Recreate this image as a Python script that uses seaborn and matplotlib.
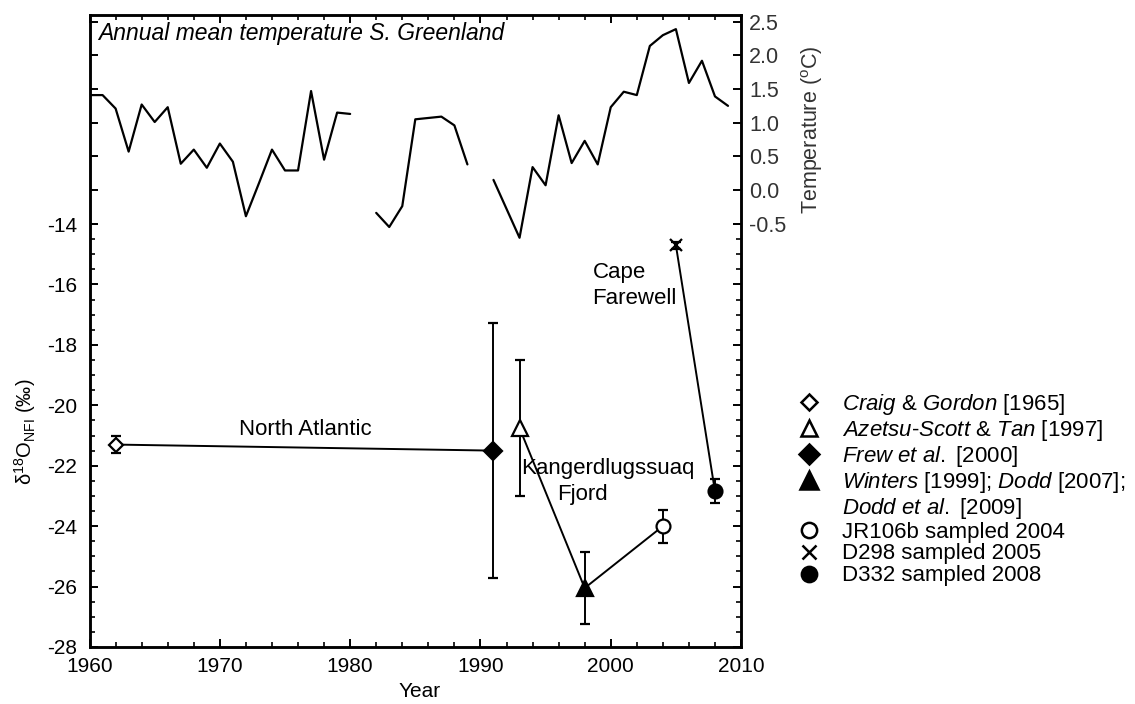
import numpy as np
import pandas as pd
import matplotlib
matplotlib.use("Agg")
import matplotlib.pyplot as plt
import seaborn as sns
from matplotlib.lines import Line2D
from matplotlib.ticker import MultipleLocator, FixedLocator, FormatStrFormatter

# annual mean temperature, S. Greenland (NaN = missing year)
temp_years = list(range(1960, 2010))
temp_vals = [1.41, 1.41, 1.21, 0.57, 1.27, 1.01, 1.23, 0.39, 0.60, 0.33,
             0.69, 0.42, -0.39, 0.10, 0.60, 0.29, 0.29, 1.47, 0.45, 1.15,
             1.13, np.nan, -0.34, -0.55, -0.24, 1.05, 1.07, 1.09, 0.96, 0.38,
             np.nan, 0.15, -0.28, -0.71, 0.34, 0.07, 1.11, 0.40, 0.73, 0.38,
             1.23, 1.46, 1.41, 2.14, 2.30, 2.39, 1.59, 1.92, 1.39, 1.25]

# d18O observations
obs_labels = [r"$\mathit{Craig}$ & $\mathit{Gordon}$ [1965]",
              r"$\mathit{Azetsu}$-$\mathit{Scott}$ & $\mathit{Tan}$ [1997]",
              r"$\mathit{Frew}$ $\mathit{et}$ $\mathit{al.}$ [2000]",
              r"$\mathit{Winters}$ [1999]; $\mathit{Dodd}$ [2007];" + "\n" + r"$\mathit{Dodd}$ $\mathit{et}$ $\mathit{al.}$ [2009]",
              "JR106b sampled 2004",
              "D298 sampled 2005",
              "D332 sampled 2008"]
obs_year = [1962, 1993, 1991, 1998, 2004, 2005, 2008]
obs_d18o = [-21.3, -20.75, -21.5, -26.05, -24.0, -14.7, -22.85]
obs_err = [0.28, 2.25, 4.22, 1.2, 0.55, 0.12, 0.4]
obs_region = ["North Atlantic", "Kangerdlugssuaq", "North Atlantic", "Kangerdlugssuaq",
              "Kangerdlugssuaq", "Cape Farewell", "Cape Farewell"]

markers = ["D", "^", "D", "^", "o", "x", "o"]
faces = ["white", "white", "black", "black", "white", "black", "black"]
sizes = [7, 11, 9, 12, 10, 9, 10]

sns.set_style("ticks")
plt.rcParams["font.family"] = ["Liberation Sans", "DejaVu Sans"]
plt.rcParams["mathtext.fontset"] = "custom"
plt.rcParams["mathtext.rm"] = "Liberation Sans"
plt.rcParams["mathtext.it"] = "Liberation Sans:italic"
plt.rcParams["mathtext.bf"] = "Liberation Sans:bold"
plt.rcParams["axes.unicode_minus"] = False
for k in ["axes.edgecolor", "text.color", "xtick.color", "ytick.color", "axes.labelcolor"]:
    plt.rcParams[k] = "black"

fig = plt.figure(figsize=(11.35, 7.04), dpi=100)
ax = fig.add_axes([0.0789, 0.081, 0.574, 0.8977])
ax2 = ax.twinx()

# temperature curve
df_t = pd.DataFrame({"year": temp_years, "temp": temp_vals})
df_t["segment"] = df_t["temp"].isna().cumsum()
df_t = df_t.dropna()
sns.lineplot(data=df_t, x="year", y="temp", units="segment", estimator=None,
             color="black", lw=1.6, ax=ax2, legend=False)

# d18O connections and points
df_o = pd.DataFrame({"year": obs_year, "d18o": obs_d18o, "region": obs_region})
sns.lineplot(data=df_o, x="year", y="d18o", units="region", estimator=None,
             color="black", lw=1.4, ax=ax, legend=False, sort=False)

handles = []
for i in range(len(obs_year)):
    ax.errorbar(obs_year[i], obs_d18o[i], yerr=obs_err[i], fmt=markers[i],
                ms=sizes[i], mfc=faces[i], mec="black", mew=1.6,
                ecolor="black", elinewidth=1.4, capsize=3.5, capthick=1.4, zorder=3)
    parts = obs_labels[i].split("\n")
    handles.append(Line2D([], [], ls="none", marker=markers[i], ms=sizes[i] + 1,
                          mfc=faces[i], mec="black", mew=1.8, label=parts[0]))
    for extra in parts[1:]:
        # continuation line of a long label, no marker
        handles.append(Line2D([], [], ls="none", marker=None, label=extra))

fs = 16
ax.text(1976.6, -20.8, "North Atlantic", ha="center", va="center", fontsize=fs)
ax.text(1999.8, -22.1, "Kangerdlugssuaq", ha="center", va="center", fontsize=fs)
ax.text(1997.8, -22.95, "Fjord", ha="center", va="center", fontsize=fs)
ax.text(1998.6, -15.6, "Cape", ha="left", va="center", fontsize=fs)
ax.text(1998.6, -16.45, "Farewell", ha="left", va="center", fontsize=fs)
ax.text(0.013, 0.97, "Annual mean temperature S. Greenland", transform=ax.transAxes,
        ha="left", va="center", fontsize=16.5, style="italic")

# axes
ax.set_xlim(1960, 2010)
ax.set_ylim(-28, -7.08)
ax2.set_ylim(-6.79, 2.6)
ax.xaxis.set_major_locator(MultipleLocator(10))
ax.xaxis.set_minor_locator(MultipleLocator(2))
ax.yaxis.set_major_locator(FixedLocator(np.arange(-28, -13, 2)))
ax.yaxis.set_minor_locator(FixedLocator(np.arange(-28, -13.9, 0.5)))
ax2.yaxis.set_major_locator(FixedLocator(np.arange(-0.5, 2.51, 0.5)))
ax2.yaxis.set_major_formatter(FormatStrFormatter("%.1f"))

ax.tick_params(axis="both", which="major", direction="in", length=6, width=1.4,
               labelsize=15, top=True, right=True)
ax.tick_params(axis="x", which="major", pad=7)
ax.tick_params(axis="y", which="major", pad=9)
ax.tick_params(axis="both", which="minor", direction="in", length=3.5, width=1.2,
               top=True, right=True)
ax2.tick_params(axis="y", which="major", direction="in", length=6, width=1.4,
                left=True, right=True, labelleft=False, labelright=True,
                labelsize=15.5, pad=6, labelcolor="#333333")
for a in (ax, ax2):
    for s in a.spines.values():
        s.set_linewidth(1.8)

ax.set_xlabel("Year", fontsize=15)
ax.xaxis.set_label_coords(0.507, -0.055)
ax.set_ylabel("δ$^{18}$O$_{\\rm NFI}$ (‰)", fontsize=14.5)
ax.yaxis.set_label_coords(-0.079, 0.34)
ax2.set_ylabel("Temperature ($^{\\rm o}$C)", fontsize=15.5, color="#333333")
ax2.yaxis.set_label_coords(1.09, 0.818)

fig.legend(handles=handles, loc="upper left", bbox_to_anchor=(0.703, 0.443),
           frameon=False, fontsize=16, handlelength=1.0, handletextpad=1.0,
           labelspacing=0.04, borderpad=0, borderaxespad=0)

fig.savefig("out.png", dpi=100)
